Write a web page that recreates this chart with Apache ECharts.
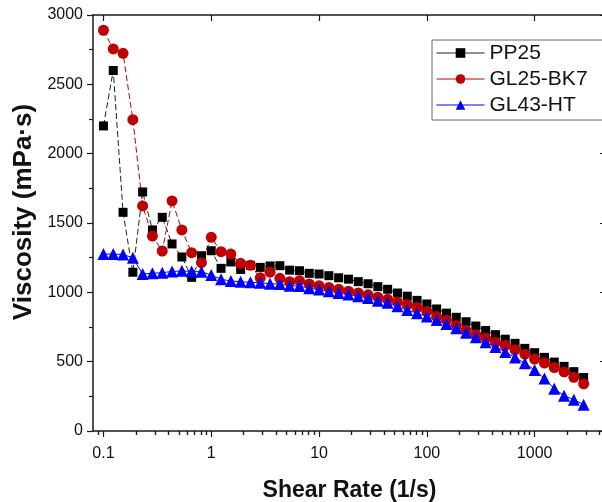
<!DOCTYPE html>
<html>
<head>
<meta charset="utf-8">
<script src="https://cdn.jsdelivr.net/npm/echarts@6/dist/echarts.min.js"></script>
<style>
  html, body { margin: 0; padding: 0; background: #fff; }
  #chart { width: 602px; height: 502px; }
</style>
</head>
<body>
<div id="chart"></div>
<script>
// shear rate of each measuring point (1/s)
const shearRate = [0.1, 0.1233, 0.152, 0.1874, 0.231, 0.2848, 0.3511, 0.4329, 0.5337, 0.6579,
  0.8111, 1, 1.233, 1.52, 1.874, 2.31, 2.848, 3.511, 4.329, 5.337,
  6.579, 8.111, 10, 12.33, 15.2, 18.74, 23.1, 28.48, 35.11, 43.29,
  53.37, 65.79, 81.11, 100, 123.3, 152, 187.4, 231, 284.8, 351.1,
  432.9, 533.7, 657.9, 811.1, 1000, 1233, 1520, 1874, 2310, 2848];

// viscosity (mPa·s)
const pp25 = [2200, 2600, 1577, 1145, 1724, 1450, 1541, 1349, 1255, 1108,
  1264, 1300, 1173, 1219, 1165, 1195, 1180, 1190, 1192, 1160,
  1156, 1137, 1132, 1120, 1105, 1095, 1077, 1062, 1041, 1022,
  995, 972, 942, 916, 880, 850, 820, 788, 757, 725,
  695, 662, 632, 596, 565, 531, 497, 466, 428, 386];
const gl25bk7 = [2890, 2755, 2724, 2245, 1623, 1406, 1298, 1659, 1450, 1286,
  1214, 1397, 1293, 1276, 1209, 1195, 1105, 1145, 1101, 1077,
  1084, 1060, 1048, 1035, 1022, 1008, 996, 982, 965, 950,
  930, 910, 890, 862, 825, 798, 760, 725, 695, 668,
  640, 616, 586, 554, 519, 490, 458, 426, 387, 340];
const gl43ht = [1276, 1276, 1272, 1250, 1132, 1137, 1142, 1150, 1155, 1150,
  1148, 1125, 1094, 1082, 1077, 1072, 1070, 1062, 1060, 1048,
  1045, 1030, 1020, 1008, 996, 984, 972, 960, 940, 925,
  900, 872, 850, 825, 800, 772, 741, 709, 676, 640,
  606, 570, 530, 488, 440, 378, 305, 255, 226, 190];

const majorTicks = [0.1, 1, 10, 100, 1000];
const minorTicks = [0.09, 0.2, 0.3, 0.4, 0.5, 0.6, 0.7, 0.8, 0.9,
  2, 3, 4, 5, 6, 7, 8, 9, 20, 30, 40, 50, 60, 70, 80, 90,
  200, 300, 400, 500, 600, 700, 800, 900, 2000, 3000, 4000];

const X_MIN = 0.08, X_MAX = 4590;
const AXIS_COLOR = '#1a1a1a';
const FONT = 'Liberation Sans, Arial, sans-serif';

const pairs = ys => shearRate.map((x, i) => [x, ys[i]]);

function logAxis(position, ticks, opts) {
  return Object.assign({
    type: 'log',
    position: position,
    min: X_MIN,
    max: X_MAX,
    axisLine: { show: true, onZero: false, lineStyle: { color: AXIS_COLOR, width: 1.5 } },
    axisTick: { show: true, customValues: ticks, inside: position === 'top', length: 6,
      lineStyle: { color: AXIS_COLOR, width: 1.2 } },
    axisLabel: { show: false },
    minorTick: { show: false },
    splitLine: { show: false }
  }, opts);
}

const chart = echarts.init(document.getElementById('chart'), null, { renderer: 'canvas' });

chart.setOption({
  animation: false,
  backgroundColor: '#fff',
  grid: { left: 93, top: 15, width: 513, height: 416, containLabel: false, outerBoundsMode: 'none' },
  legend: {
    orient: 'vertical',
    left: 432,
    top: 40,
    padding: [2, 30, 4, 4],
    itemWidth: 48,
    itemHeight: 12,
    itemGap: 4,
    backgroundColor: '#fff',
    borderColor: '#666',
    borderWidth: 1,
    lineStyle: { type: 'solid', width: 1 },
    textStyle: { fontFamily: FONT, fontSize: 21, color: '#111', lineHeight: 22 },
    data: ['PP25', 'GL25-BK7', 'GL43-HT']
  },
  xAxis: [
    logAxis('bottom', majorTicks, {
      name: 'Shear Rate (1/s)',
      nameLocation: 'middle',
      nameGap: 48,
      nameTextStyle: { fontFamily: FONT, fontSize: 23, fontWeight: 'bold', color: '#111' },
      axisLabel: {
        show: true, customValues: majorTicks, margin: 15,
        fontFamily: FONT, fontSize: 16, color: '#111',
        formatter: v => String(Number(v.toPrecision(3)))
      }
    }),
    logAxis('bottom', minorTicks, { axisLine: { show: false }, axisTick: {
      show: true, customValues: minorTicks, length: 4, lineStyle: { color: AXIS_COLOR, width: 1.2 } } }),
    logAxis('top', majorTicks, {}),
    logAxis('top', minorTicks, { axisLine: { show: false }, axisTick: {
      show: true, customValues: minorTicks, inside: true, length: 4, lineStyle: { color: AXIS_COLOR, width: 1.2 } } })
  ],
  yAxis: [
    {
      type: 'value',
      position: 'left',
      min: 0,
      max: 3000,
      interval: 500,
      name: 'Viscosity (mPa·s)',
      nameLocation: 'middle',
      nameGap: 52,
      nameTextStyle: { fontFamily: FONT, fontSize: 26, fontWeight: 'bold', color: '#111', padding: [0, 0, 0, 22] },
      axisLine: { show: true, onZero: false, lineStyle: { color: AXIS_COLOR, width: 1.5 } },
      axisTick: { show: true, length: 6, lineStyle: { color: AXIS_COLOR, width: 1.2 } },
      minorTick: { show: true, splitNumber: 2, length: 4, lineStyle: { color: AXIS_COLOR, width: 1.2 } },
      axisLabel: { margin: 10, fontFamily: FONT, fontSize: 16, color: '#111', formatter: v => String(v) },
      splitLine: { show: false }
    },
    {
      type: 'value',
      position: 'right',
      min: 0,
      max: 3000,
      interval: 500,
      axisLine: { show: true, onZero: false, lineStyle: { color: AXIS_COLOR, width: 1.5 } },
      axisTick: { show: true, inside: true, length: 6, lineStyle: { color: AXIS_COLOR, width: 1.2 } },
      minorTick: { show: true, splitNumber: 2, length: 4, lineStyle: { color: AXIS_COLOR, width: 1.2 } },
      axisLabel: { show: false },
      splitLine: { show: false }
    }
  ],
  series: [
    {
      name: 'PP25',
      type: 'line',
      data: pairs(pp25),
      symbol: 'rect',
      symbolSize: 9,
      itemStyle: { color: '#000' },
      lineStyle: { color: '#222', width: 1, type: [6, 3] }
    },
    {
      name: 'GL25-BK7',
      type: 'line',
      data: pairs(gl25bk7),
      symbol: 'circle',
      symbolSize: 11,
      itemStyle: { color: '#c00000' },
      lineStyle: { color: '#c00000', width: 1, type: [6, 3] }
    },
    {
      name: 'GL43-HT',
      type: 'line',
      data: pairs(gl43ht),
      symbol: 'triangle',
      symbolSize: 12,
      itemStyle: { color: '#0000ff' },
      lineStyle: { color: '#0000ff', width: 1 }
    }
  ]
});
</script>
</body>
</html>
